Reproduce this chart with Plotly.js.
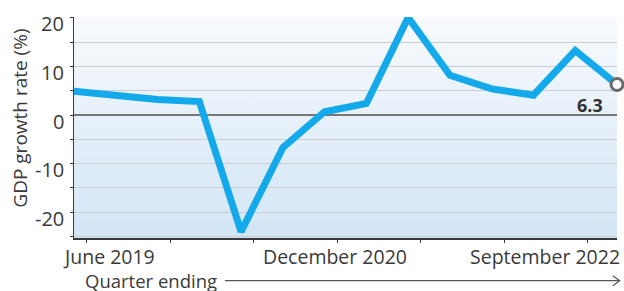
<!DOCTYPE html>
<html>
<head>
<meta charset="utf-8">
<script src="https://cdn.plot.ly/plotly-3.0.1.min.js"></script>
<style>html,body{margin:0;padding:0;background:#fff;}#chart{width:624px;height:291px;}</style>
</head>
<body>
<div id="chart"></div>
<script>
// Quarter-ending dates and India GDP growth (%)
const quarters = ["Jun 2019","Sep 2019","Dec 2019","Mar 2020","Jun 2020","Sep 2020","Dec 2020",
                  "Mar 2021","Jun 2021","Sep 2021","Dec 2021","Mar 2022","Jun 2022","Sep 2022"];
const gdpGrowth = [4.9, 4.1, 3.2, 2.8, -24.0, -6.7, 0.7, 2.4, 20.1, 8.2, 5.4, 4.1, 13.3, 6.3];
const xLabels = ["June 2019", "December 2020", "September 2022"];
const xLabelQuarters = ["Jun 2019", "Dec 2020", "Sep 2022"];
const yTickVals = [-20, -10, 0, 10, 20];
const yTickText = ["-20", "-10", "0", "10", "20"];
const yTitle = "GDP growth rate (%)";
const xTitle = "Quarter ending";

const idx = quarters.map((q, i) => i);
const last = quarters.length - 1;
const FONT = "Open Sans, Noto Sans, sans-serif";
const TXT = "#3a3a3a";

const gradSvg = '<svg xmlns="http://www.w3.org/2000/svg" width="10" height="100" preserveAspectRatio="none">' +
  '<defs><linearGradient id="g" x1="0" y1="0" x2="0" y2="1">' +
  '<stop offset="0" stop-color="#f8fafd"/><stop offset="1" stop-color="#d2e5f5"/></linearGradient></defs>' +
  '<rect width="10" height="100" fill="url(#g)"/></svg>';

const traces = [
  {
    x: idx, y: gdpGrowth, type: "scatter", mode: "lines",
    line: {color: "#14a9ea", width: 7},
    hoverinfo: "skip", cliponaxis: false
  },
  {
    x: [idx[last]], y: [gdpGrowth[last]], type: "scatter", mode: "markers",
    marker: {symbol: "circle", size: 12, color: "#ffffff", line: {color: "#6b6b6b", width: 3}},
    hoverinfo: "skip", cliponaxis: false
  }
];

const xAnchors = ["left", "center", "right"];
const xShifts = [-12, 10, 4];
const annotations = xLabels.map((t, i) => ({
  text: t, x: quarters.indexOf(xLabelQuarters[i]), xref: "x", y: 0, yref: "paper",
  xanchor: xAnchors[i], yanchor: "top", xshift: xShifts[i], yshift: -4, borderpad: 0,
  showarrow: false, font: {family: FONT, size: 19.5, color: TXT}
}));
yTickVals.forEach((v, i) => annotations.push({
  text: yTickText[i], x: 0, xref: "paper", y: v, yref: "y",
  xanchor: "right", yanchor: "middle", xshift: -9, yshift: -6, borderpad: 0,
  showarrow: false, font: {family: FONT, size: 20, color: TXT}
}));
annotations.push({
  text: xTitle, x: 0, xref: "paper", y: 0, yref: "paper", xanchor: "left", yanchor: "middle",
  xshift: 10, yshift: -42, borderpad: 0, showarrow: false, font: {family: FONT, size: 18.5, color: TXT}
});
annotations.push({
  text: "<b>" + gdpGrowth[last].toFixed(1) + "</b>", x: idx[last], y: gdpGrowth[last], xref: "x", yref: "y",
  xanchor: "right", yanchor: "top", xshift: -12, yshift: -6, showarrow: false,
  font: {family: FONT, size: 18, color: "#333333"}
});
annotations.push({
  text: yTitle, x: 0, xref: "paper", y: 0.54, yref: "paper", textangle: -90,
  xanchor: "center", yanchor: "middle", xshift: -54, showarrow: false,
  font: {family: FONT, size: 19, color: TXT}
});

const layout = {
  width: 624, height: 291,
  margin: {l: 74, r: 7, t: 17, b: 53},
  paper_bgcolor: "#ffffff", plot_bgcolor: "rgba(0,0,0,0)",
  showlegend: false,
  font: {family: FONT, color: TXT},
  xaxis: {
    range: [0, last], showgrid: false, zeroline: false,
    showline: true, linecolor: TXT, linewidth: 1.5,
    tickmode: "linear", tick0: 0.3, dtick: 2, ticks: "outside", ticklen: 3,
    tickcolor: TXT, showticklabels: false, fixedrange: true
  },
  yaxis: {
    range: [-25.3, 20.2], tickvals: yTickVals, showticklabels: false,
    ticks: "outside", ticklen: 3, tickcolor: TXT,
    showline: true, linecolor: TXT, linewidth: 1.5,
    gridcolor: "#c9cdd2", gridwidth: 1,
    zeroline: true, zerolinecolor: "#777777", zerolinewidth: 1.6,
    minor: {dtick: 5, tick0: 0, showgrid: true, gridcolor: "#c9cdd2", gridwidth: 1,
            ticks: "outside", ticklen: 3, tickcolor: TXT},
    fixedrange: true
  },
  images: [{
    source: "data:image/svg+xml;charset=utf-8," + encodeURIComponent(gradSvg),
    xref: "paper", yref: "paper", x: 0, y: 1, sizex: 1, sizey: 1,
    sizing: "stretch", layer: "below", xanchor: "left", yanchor: "top"
  }],
  shapes: [
    {type: "line", xref: "paper", yref: "paper", x0: 0.278, x1: 1.005, y0: -0.193, y1: -0.193,
     line: {color: "#555555", width: 1.2}},
    {type: "path", xref: "paper", yref: "paper", xsizemode: "pixel", ysizemode: "pixel",
     xanchor: 1.005, yanchor: -0.193, path: "M -7 5 L 0 0 L -7 -5",
     line: {color: "#555555", width: 1.2}}
  ],
  annotations: annotations
};

Plotly.newPlot("chart", traces, layout, {displayModeBar: false, staticPlot: true});
</script>
</body>
</html>
